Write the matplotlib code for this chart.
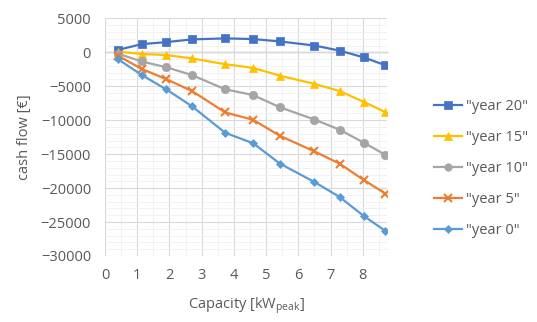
import matplotlib.pyplot as plt
from matplotlib.ticker import MultipleLocator

# capacity [kWpeak]
capacity = [0.4, 1.14, 1.9, 2.7, 3.73, 4.6, 5.43, 6.5, 7.28, 8.03, 8.7]

year_20 = [350, 1200, 1500, 1900, 2050, 1950, 1600, 1000, 250, -750, -1900]
year_15 = [100, -250, -400, -900, -1750, -2300, -3450, -4650, -5700, -7300, -8800]
year_10 = [-200, -1350, -2200, -3350, -5450, -6300, -8100, -9900, -11400, -13300, -15100]
year_5 = [-500, -2450, -3950, -5700, -8850, -9950, -12300, -14600, -16400, -18800, -20800]
year_0 = [-1000, -3350, -5450, -7950, -11850, -13400, -16400, -19100, -21300, -24100, -26300]

series = [
    ('"year 20"', year_20, "#4472C4", "s", 6),
    ('"year 15"', year_15, "#FFC000", "^", 6),
    ('"year 10"', year_10, "#A5A5A5", "o", 6),
    ('"year 5"', year_5, "#ED7D31", "x", 6),
    ('"year 0"', year_0, "#5B9BD5", "D", 4.5),
]

plt.rcParams["font.family"] = ["Open Sans", "DejaVu Sans"]
txt = "#595959"

fig = plt.figure(figsize=(5.37, 3.22), dpi=100)
ax = fig.add_axes([0.1955, 0.205, 0.525, 0.738])

for name, vals, col, mk, ms in series:
    ax.plot(capacity, vals, color=col, marker=mk, markersize=ms, linewidth=1.6,
            markeredgewidth=1.5 if mk == "x" else 0.5, markeredgecolor=col, label=name)

ax.set_xlim(0, 8.75)
ax.set_ylim(-30000, 5000)
ax.xaxis.set_major_locator(MultipleLocator(1))
ax.xaxis.set_minor_locator(MultipleLocator(0.5))
ax.yaxis.set_major_locator(MultipleLocator(5000))
ax.yaxis.set_minor_locator(MultipleLocator(1000))
ax.set_xticks(range(0, 9))
ax.grid(which="major", color="#D9D9D9", linewidth=0.8)
ax.grid(which="minor", color="#F0F0F0", linewidth=0.6)
ax.set_axisbelow(True)
for s in ax.spines.values():
    s.set_visible(False)
ax.tick_params(which="both", length=0, labelsize=10.5, labelcolor=txt)
ax.tick_params(axis="y", pad=10)
ax.tick_params(axis="x", pad=9)

# zero line with small tick marks
ylo, yhi = ax.get_ylim()
zero = ax.secondary_xaxis((0 - ylo) / (yhi - ylo))
zero.set_xticks(range(0, 9))
zero.set_xticklabels([])
zero.tick_params(which="major", length=4, color="#BFBFBF", width=0.8)
zero.tick_params(which="minor", length=0)
for k, s in zero.spines.items():
    s.set_visible(k == "bottom")
zero.spines["bottom"].set_color("#BFBFBF")
zero.spines["bottom"].set_linewidth(1.0)

ax.set_xlabel("Capacity [kW$_\\mathregular{peak}$]", fontsize=10.5, color=txt, labelpad=8)
ax.set_ylabel("cash flow [€]", fontsize=10.5, color=txt, labelpad=6)

fig.legend(loc="upper left", bbox_to_anchor=(0.798, 0.71), frameon=False,
           fontsize=10.5, labelcolor=txt, handlelength=1.9, handletextpad=0.25,
           labelspacing=1.1, borderaxespad=0, markerscale=0.9)

fig.savefig("out.png", dpi=100)
